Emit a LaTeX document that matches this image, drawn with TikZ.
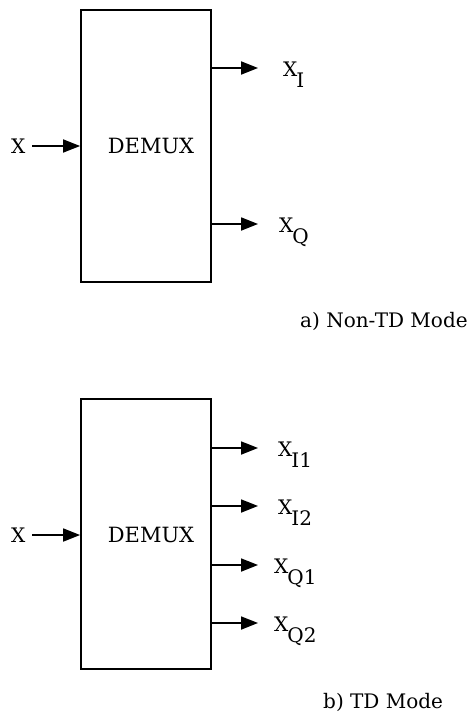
\documentclass[tikz,border=0pt]{standalone}
\usepackage{fontspec}
\setmainfont{DejaVu Serif}
\usetikzlibrary{arrows.meta}
\tikzset{
  demux/.style={draw, line width=1.8pt, minimum width=130pt, minimum height=#1, inner sep=0pt},
  dmtxt/.style={inner sep=0pt, font=\fontsize{21}{24}\selectfont},
  sig/.style={line width=1.8pt, -{Triangle[length=17pt,width=13pt]}},
  lbl/.style={anchor=base west, inner sep=0pt, font=\fontsize{20}{24}\selectfont},
  captxt/.style={anchor=base west, inner sep=0pt, font=\fontsize{20}{24}\selectfont}
}
\newcommand{\subx}[1]{X\hspace{-1pt}\raisebox{-11pt}{#1}}
\begin{document}
\begin{tikzpicture}[x=1pt,y=1pt]
\useasboundingbox (0,0) rectangle (472,-725);
% a) Non-TD
\node[demux=272pt] (boxa) at (146,-146) {};
\node[dmtxt] (dma) at (151,-146) {DEMUX};
\node[lbl] (xa) at (11,-153) {X};
\coordinate (ina) at (32,-146);
\draw[sig] (ina) -- (boxa.west |- ina);
\coordinate (oa1) at (258,-68);
\coordinate (oa2) at (258,-224);
\draw[sig] (boxa.east |- oa1) -- (oa1);
\draw[sig] (boxa.east |- oa2) -- (oa2);
\node[lbl] (xi) at (283,-76) {\subx{I}};
\node[lbl] (xq) at (279,-232) {\subx{Q}};
\node[captxt] (capa) at (300,-327) {a) Non-TD Mode};
% b) TD
\node[demux=270pt] (boxb) at (146,-534) {};
\node[dmtxt] (dmb) at (151,-535) {DEMUX};
\node[lbl] (xb) at (11,-542) {X};
\coordinate (inb) at (32,-535);
\draw[sig] (inb) -- (boxb.west |- inb);
\coordinate (ob1) at (258,-448);
\coordinate (ob2) at (258,-506);
\coordinate (ob3) at (258,-565);
\coordinate (ob4) at (258,-623);
\draw[sig] (boxb.east |- ob1) -- (ob1);
\draw[sig] (boxb.east |- ob2) -- (ob2);
\draw[sig] (boxb.east |- ob3) -- (ob3);
\draw[sig] (boxb.east |- ob4) -- (ob4);
\node[lbl] (xi1) at (278,-456) {\subx{I1}};
\node[lbl] (xi2) at (278,-514) {\subx{I2}};
\node[lbl] (xq1) at (274,-573) {\subx{Q1}};
\node[lbl] (xq2) at (274,-631) {\subx{Q2}};
\node[captxt] (capb) at (323,-708) {b) TD Mode};
\end{tikzpicture}
\end{document}
